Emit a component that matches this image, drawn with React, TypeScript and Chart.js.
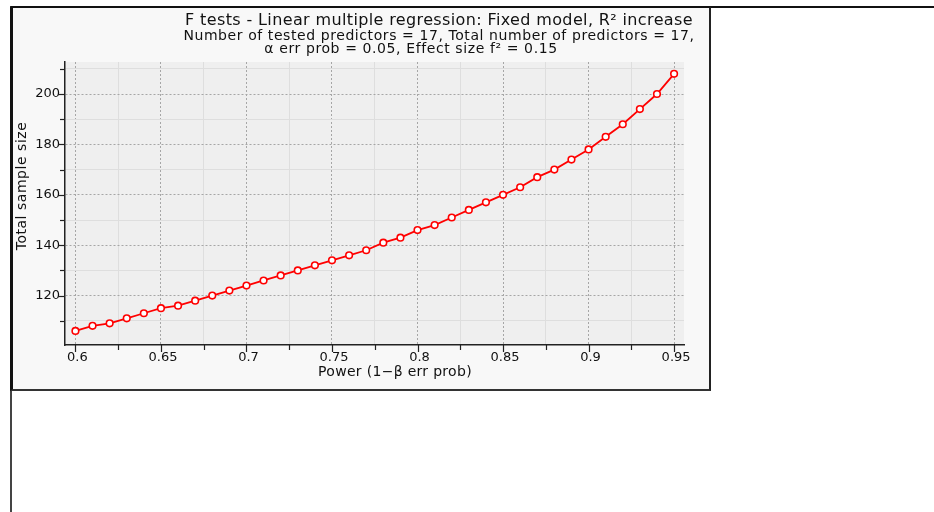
import React, { useEffect, useRef } from "react";
import { Chart, registerables } from "chart.js";

Chart.register(...registerables);

const powerValues = [
  0.6, 0.61, 0.62, 0.63, 0.64, 0.65, 0.66, 0.67, 0.68, 0.69, 0.7, 0.71,
  0.72, 0.73, 0.74, 0.75, 0.76, 0.77, 0.78, 0.79, 0.8, 0.81, 0.82, 0.83,
  0.84, 0.85, 0.86, 0.87, 0.88, 0.89, 0.9, 0.91, 0.92, 0.93, 0.94, 0.95,
];
const sampleSizes = [
  106, 108, 109, 111, 113, 115, 116, 118, 120, 122, 124, 126,
  128, 130, 132, 134, 136, 138, 141, 143, 146, 148, 151, 154,
  157, 160, 163, 167, 170, 174, 178, 183, 188, 194, 200, 208,
];
const xTickValues = [
  0.6, 0.625, 0.65, 0.675, 0.7, 0.725, 0.75, 0.775, 0.8, 0.825, 0.85, 0.875, 0.9, 0.925, 0.95,
];
const xTickLabels = ["0.6", "", "0.65", "", "0.7", "", "0.75", "", "0.8", "", "0.85", "", "0.9", "", "0.95"];
const yTickValues = [110, 120, 130, 140, 150, 160, 170, 180, 190, 200, 210];
const yTickLabels = ["", "120", "", "140", "", "160", "", "180", "", "200", ""];

const titleText = "F tests - Linear multiple regression: Fixed model, R² increase";
const subtitleLines = [
  "Number of tested predictors = 17, Total number of predictors = 17,",
  "α err prob = 0.05, Effect size f² = 0.15",
];
const xAxisTitle = "Power (1−β err prob)";
const yAxisTitle = "Total sample size";

const FONT = "'DejaVu Sans', sans-serif";

function drawSpaced(ctx: any, text: string, x: number, y: number, font: string, spacing: number) {
  ctx.font = font;
  try {
    ctx.letterSpacing = `${spacing}px`;
  } catch (e) {
    /* ignore */
  }
  ctx.fillText(text, x, y);
  try {
    ctx.letterSpacing = "0px";
  } catch (e) {
    /* ignore */
  }
}

const decorPlugin = {
  id: "decor",
  beforeDraw(chart: any) {
    const { ctx, chartArea: a } = chart;
    ctx.save();
    ctx.fillStyle = "#efefef";
    ctx.fillRect(a.left, a.top, a.right - a.left, a.bottom - a.top);
    ctx.restore();
  },
  afterDraw(chart: any) {
    const { ctx, chartArea: a } = chart;
    const xs = chart.scales.x;
    const ys = chart.scales.y;
    ctx.save();
    ctx.strokeStyle = "#222";
    ctx.lineWidth = 1.2;
    xs.ticks.forEach((t: any, i: number) => {
      const px = Math.round(xs.getPixelForValue(t.value)) + 0.5;
      const len = xTickLabels[i] ? 7 : 5;
      ctx.beginPath();
      ctx.moveTo(px, a.bottom);
      ctx.lineTo(px, a.bottom + len);
      ctx.stroke();
    });
    ys.ticks.forEach((t: any, i: number) => {
      const py = Math.round(ys.getPixelForValue(t.value)) + 0.5;
      const len = yTickLabels[i] ? 7 : 5;
      ctx.beginPath();
      ctx.moveTo(a.left, py);
      ctx.lineTo(a.left - len, py);
      ctx.stroke();
    });

    ctx.fillStyle = "#111";
    ctx.textAlign = "center";
    ctx.textBaseline = "alphabetic";
    drawSpaced(ctx, titleText, 439, 25, `16px ${FONT}`, 0.37);
    drawSpaced(ctx, subtitleLines[0], 439, 39.5, `14px ${FONT}`, 0.58);
    drawSpaced(ctx, subtitleLines[1], 411, 52.5, `14px ${FONT}`, 0.6);

    drawSpaced(ctx, xAxisTitle, 395, 376, `14px ${FONT}`, 0.3);

    ctx.translate(26, 186);
    ctx.rotate(-Math.PI / 2);
    drawSpaced(ctx, yAxisTitle, 0, 0, `14px ${FONT}`, 0.53);
    ctx.restore();
  },
};

export default function App() {
  const canvasRef = useRef<HTMLCanvasElement | null>(null);

  useEffect(() => {
    const canvas = canvasRef.current;
    if (!canvas) return;
    const points = powerValues.map((p, i) => ({ x: p, y: sampleSizes[i] }));
    const chart = new Chart(canvas, {
      type: "line",
      data: {
        datasets: [
          {
            data: points,
            borderColor: "#ff0000",
            borderWidth: 1.8,
            pointBackgroundColor: "#ffffff",
            pointBorderColor: "#ff0000",
            pointBorderWidth: 1.6,
            pointRadius: 3.3,
            tension: 0,
            fill: false,
          },
        ],
      },
      options: {
        responsive: false,
        animation: false,
        events: [],
        layout: { padding: { left: 0, right: 250, top: 62, bottom: 127 } },
        plugins: {
          legend: { display: false },
          title: { display: false },
          tooltip: { enabled: false },
        },
        scales: {
          x: {
            type: "linear",
            min: 0.5939,
            max: 0.9558,
            afterFit: (s: any) => {
              s.height = 40;
            },
            afterBuildTicks: (s: any) => {
              s.ticks = xTickValues.map((v) => ({ value: v }));
            },
            ticks: {
              autoSkip: false,
              maxRotation: 0,
              padding: 5,
              labelOffset: 2,
              color: "#111",
              font: { family: FONT, size: 13 },
              callback: (_v: any, i: number) => xTickLabels[i],
            },
            grid: {
              drawTicks: false,
              color: (c: any) => (xTickLabels[c.index] ? "#a6a6a6" : "#dedede"),
              lineWidth: 1,
            },
            border: {
              display: true,
              color: "#222",
              width: 1.5,
              dash: (c: any) => (xTickLabels[c.index] ? [2, 2] : []),
            },
          },
          y: {
            type: "linear",
            min: 100.4,
            max: 212.7,
            afterFit: (s: any) => {
              s.width = 65;
            },
            afterBuildTicks: (s: any) => {
              s.ticks = yTickValues.map((v) => ({ value: v }));
            },
            ticks: {
              autoSkip: false,
              padding: 5,
              color: "#111",
              font: { family: FONT, size: 13 },
              callback: (_v: any, i: number) => yTickLabels[i],
            },
            grid: {
              drawTicks: false,
              color: (c: any) => (yTickLabels[c.index] ? "#a6a6a6" : "#dedede"),
              lineWidth: 1,
            },
            border: {
              display: true,
              color: "#222",
              width: 1.5,
              dash: (c: any) => (yTickLabels[c.index] ? [2, 2] : []),
            },
          },
        },
      },
      plugins: [decorPlugin],
    } as any);
    return () => chart.destroy();
  }, []);

  return (
    <div style={{ position: "absolute", left: 0, top: 0, width: 934, height: 512, background: "#fff", overflow: "hidden" }}>
      <div
        style={{
          position: "absolute",
          left: 10,
          top: 6,
          width: 924,
          height: 506,
          borderTop: "2px solid #111",
          borderLeft: "2px solid #444",
          boxSizing: "border-box",
        }}
      />
      <div
        style={{
          position: "absolute",
          left: 10,
          top: 7,
          width: 701,
          height: 384,
          background: "#f8f8f8",
          borderLeft: "3px solid #111",
          borderTop: "1px solid #111",
          borderRight: "2px solid #222",
          borderBottom: "2px solid #333",
          boxSizing: "border-box",
        }}
      />
      <canvas
        ref={canvasRef}
        width={934}
        height={512}
        style={{ position: "absolute", left: 0, top: 0, width: 934, height: 512 }}
      />
    </div>
  );
}
